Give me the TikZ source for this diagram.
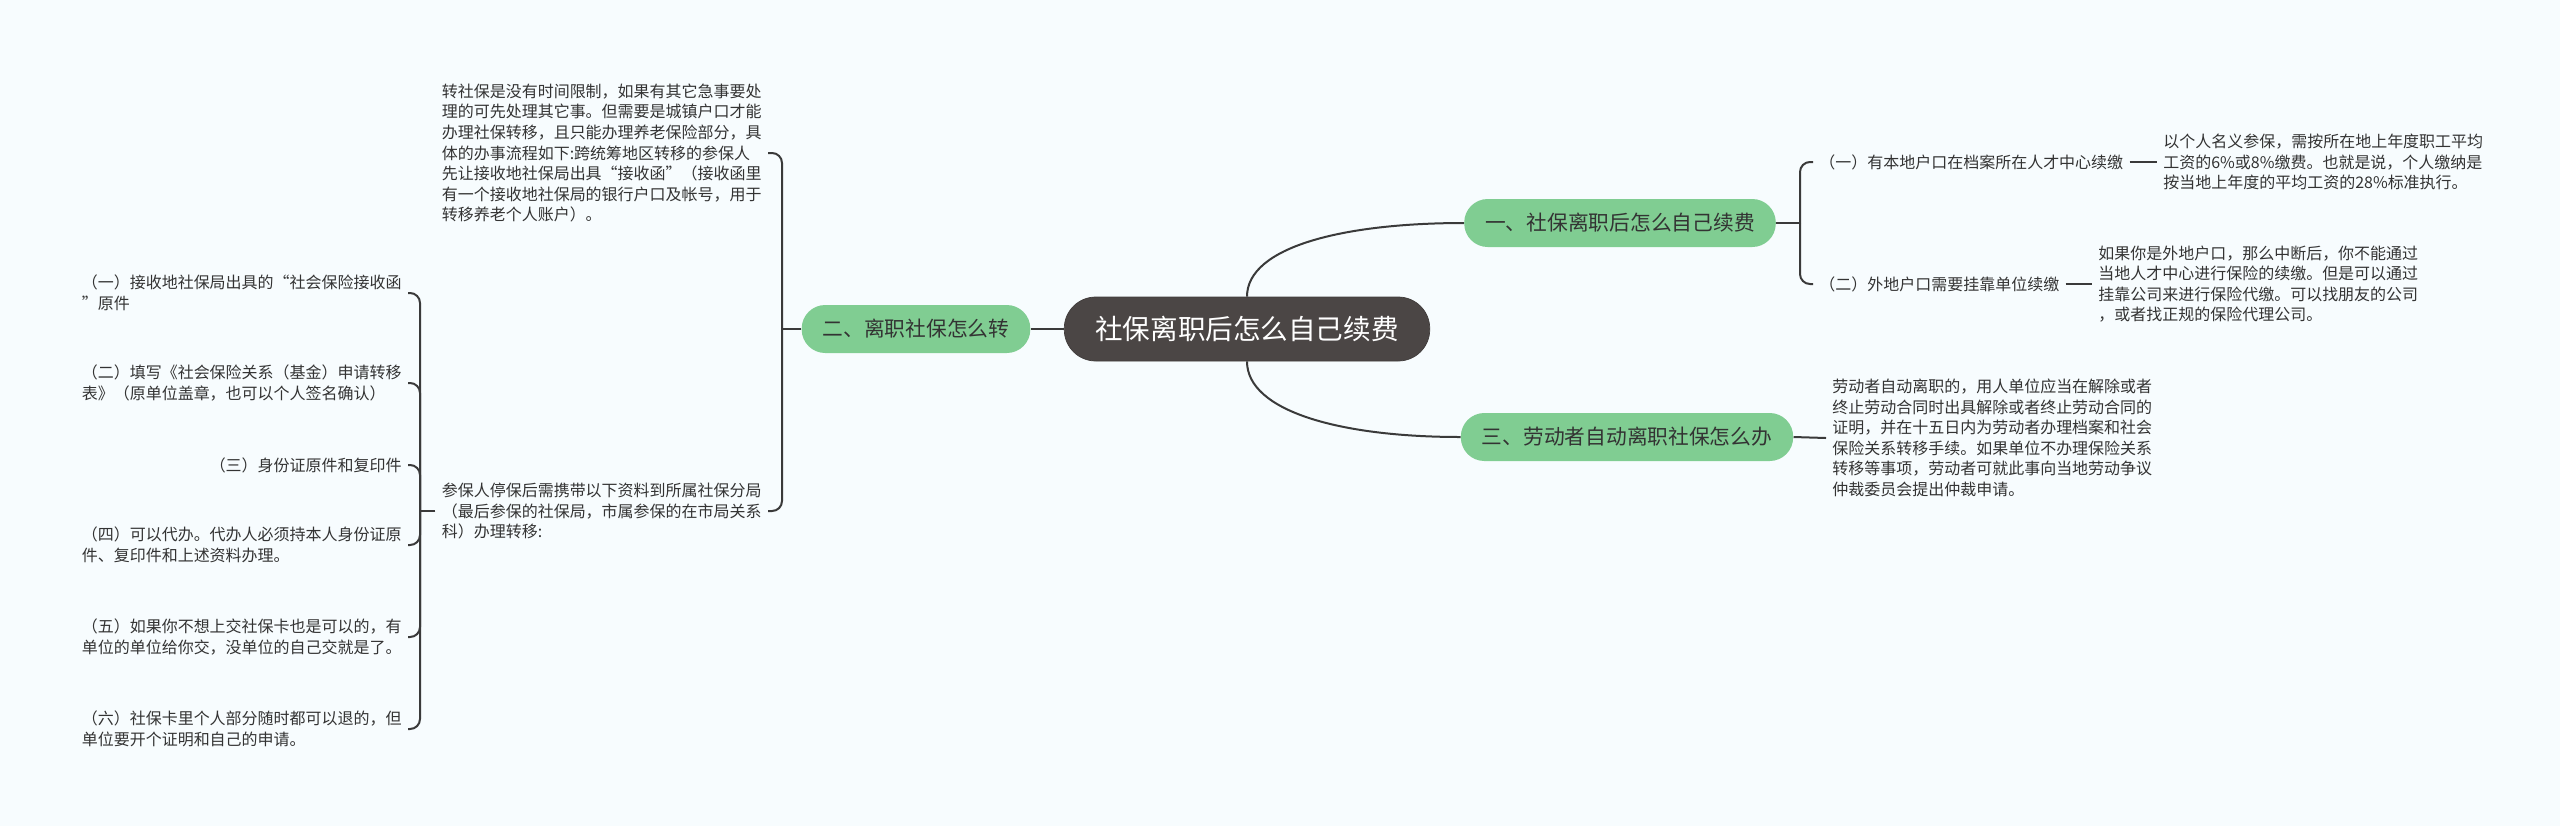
\documentclass[tikz,border=0pt]{standalone}
\usepackage{fontspec}
\setmainfont{Noto Sans CJK SC}
\usepackage{xcolor}
\usepackage{tikz}
\usetikzlibrary{positioning}

\definecolor{bgc}{HTML}{F7FCFE}
\definecolor{rootc}{HTML}{4B4645}
\definecolor{brc}{HTML}{80CD92}
\definecolor{lnc}{HTML}{3A3A3A}
\definecolor{txc}{HTML}{333333}

\begin{document}
\begin{tikzpicture}[
  x=0.2mm, y=-0.2mm,
  root/.style={fill=rootc, draw=rootc!85!black, text=white, rounded corners=6.3mm,
               minimum height=12.8mm, inner xsep=6.2mm,
               font=\fontsize{15.7}{18}\selectfont},
  br/.style={fill=brc, rounded corners=4.7mm, minimum height=9.6mm, inner xsep=4.2mm,
             text=txc, font=\fontsize{11.8}{14}\selectfont},
  lf/.style={align=left, inner sep=1.2mm, text=txc,
             font=\fontsize{9.1}{11.7}\selectfont},
  ln/.style={draw=lnc, line width=0.4mm}
]
\useasboundingbox[fill=bgc] (0,0) rectangle (2560,826);
% centre and branches
\node[root] (root) at (1247,329) {社保离职后怎么自己续费};
\node[br] (b1) at (1620,223) {一、社保离职后怎么自己续费};
\node[br] (b2) at (916,329)  {二、离职社保怎么转};
\node[br] (b3) at (1627,437) {三、劳动者自动离职社保怎么办};
% branch 1
\coordinate (j1) at (1800,223);
\node[lf, anchor=west] (c11) at (1813,162) {（一）有本地户口在档案所在人才中心续缴};
\node[lf, anchor=west] (c12) at (1813,284) {（二）外地户口需要挂靠单位续缴};
\node[lf, anchor=west] (l11) at (2157,162)
  {以个人名义参保，需按所在地上年度职工平均\\工资的6\%或8\%缴费。也就是说，个人缴纳是\\按当地上年度的平均工资的28\%标准执行。};
\node[lf, anchor=west] (l12) at (2092,284)
  {如果你是外地户口，那么中断后，你不能通过\\当地人才中心进行保险的续缴。但是可以通过\\挂靠公司来进行保险代缴。可以找朋友的公司\\，或者找正规的保险代理公司。};
% branch 3
\node[lf, anchor=west] (l31) at (1826,438)
  {劳动者自动离职的，用人单位应当在解除或者\\终止劳动合同时出具解除或者终止劳动合同的\\证明，并在十五日内为劳动者办理档案和社会\\保险关系转移手续。如果单位不办理保险关系\\转移等事项，劳动者可就此事向当地劳动争议\\仲裁委员会提出仲裁申请。};
% branch 2
\coordinate (j2) at (782,329);
\node[lf, anchor=east] (l21) at (768,153)
  {转社保是没有时间限制，如果有其它急事要处\\理的可先处理其它事。但需要是城镇户口才能\\办理社保转移，且只能办理养老保险部分，具\\体的办事流程如下:跨统筹地区转移的参保人\\先让接收地社保局出具“接收函”（接收函里\\有一个接收地社保局的银行户口及帐号，用于\\转移养老个人账户）。};
\node[lf, anchor=east] (l22) at (768,511)
  {参保人停保后需携带以下资料到所属社保分局\\（最后参保的社保局，市属参保的在市局关系\\科）办理转移:};
\coordinate (j22) at (420,511);
\node[lf, anchor=east] (c1) at (408,293) {（一）接收地社保局出具的“社会保险接收函\\”原件};
\node[lf, anchor=east] (c2) at (408,383) {（二）填写《社会保险关系（基金）申请转移\\表》（原单位盖章，也可以个人签名确认）};
\node[lf, anchor=east] (c3) at (408,465) {（三）身份证原件和复印件};
\node[lf, anchor=east] (c4) at (408,545) {（四）可以代办。代办人必须持本人身份证原\\件、复印件和上述资料办理。};
\node[lf, anchor=east] (c5) at (408,637) {（五）如果你不想上交社保卡也是可以的，有\\单位的单位给你交，没单位的自己交就是了。};
\node[lf, anchor=east] (c6) at (408,729) {（六）社保卡里个人部分随时都可以退的，但\\单位要开个证明和自己的申请。};
% connectors
\draw[ln] (root.north) .. controls +(0,-50) and +(-120,0) .. (b1.west);
\draw[ln] (root.south) .. controls +(0,50) and +(-120,0) .. (b3.west);
\draw[ln] (root.west) -- (b2.east);
\draw[ln] (b1.east) -- (j1);
\draw[ln, rounded corners=2mm] (j1) |- (c11.west);
\draw[ln, rounded corners=2mm] (j1) |- (c12.west);
\draw[ln] (c11.east) -- (l11.west);
\draw[ln] (c12.east) -- (l12.west);
\draw[ln] (b3.east) -- (l31.west);
\draw[ln] (b2.west) -- (j2);
\draw[ln, rounded corners=2mm] (j2) |- (l21.east);
\draw[ln, rounded corners=2mm] (j2) |- (l22.east);
\draw[ln] (l22.west) -- (j22);
\foreach \c in {c1,c2,c3,c4,c5,c6}
  \draw[ln, rounded corners=2mm] (j22) |- (\c.east);
\end{tikzpicture}
\end{document}
